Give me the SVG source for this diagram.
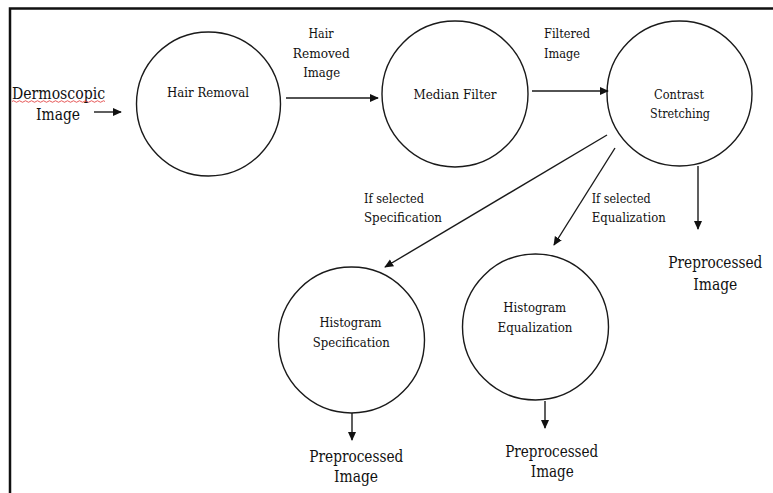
<svg xmlns="http://www.w3.org/2000/svg" width="773" height="493" viewBox="0 0 773 493">
<style>
  .node circle { fill: #fff; stroke: #1a1a1a; stroke-width: 1.4; }
  text { font-family: 'DejaVu Serif Condensed', 'DejaVu Serif', serif; font-stretch: condensed; fill: #111; }
  .s { font-size: 13px; }
  .l { font-size: 16px; }
  .c { text-anchor: middle; }
  .conn line { stroke: #1a1a1a; stroke-width: 1.4; marker-end: url(#ah); }
  .frame { stroke: #111; stroke-width: 2.5; fill: none; }
</style>
<defs>
  <marker id="ah" viewBox="0 0 10 10" refX="9" refY="5" markerWidth="9" markerHeight="9" markerUnits="userSpaceOnUse" orient="auto">
    <path d="M0,0.5 L10,5 L0,9.5 z" fill="#111"/>
  </marker>
</defs>
<rect width="773" height="493" fill="#fff"/>
<path class="frame" d="M10,493 L10,8.5 L773,8.5"/>

<g id="input">
  <text class="l" x="12" y="99" textLength="93" lengthAdjust="spacingAndGlyphs">Dermoscopic</text>
  <path d="M12,101.5 q1.5,-1.5 3,0 t3,0 t3,0 t3,0 t3,0 t3,0 t3,0 t3,0 t3,0 t3,0 t3,0 t3,0 t3,0 t3,0 t3,0 t3,0 t3,0 t3,0 t3,0 t3,0 t3,0 t3,0 t3,0 t3,0 t3,0 t3,0 t3,0 t3,0 t3,0 t3,0 t3,0" fill="none" stroke="#e03030" stroke-width="0.8"/>
  <text class="l c" x="58" y="120" textLength="44" lengthAdjust="spacingAndGlyphs">Image</text>
</g>

<g id="hair-removal" class="node">
  <circle cx="208.5" cy="104" r="72"/>
  <text class="s c" x="208" y="97" textLength="82" lengthAdjust="spacingAndGlyphs">Hair Removal</text>
</g>

<g id="median-filter" class="node">
  <circle cx="455" cy="94" r="73"/>
  <text class="s c" x="455" y="99" textLength="83" lengthAdjust="spacingAndGlyphs">Median Filter</text>
</g>

<g id="contrast-stretching" class="node">
  <circle cx="679.5" cy="93.5" r="72.5"/>
  <text class="s c" x="679" y="99" textLength="50" lengthAdjust="spacingAndGlyphs">Contrast</text>
  <text class="s c" x="680" y="118" textLength="60" lengthAdjust="spacingAndGlyphs">Stretching</text>
</g>

<g id="histogram-specification" class="node">
  <circle cx="351.5" cy="340" r="73"/>
  <text class="s c" x="350.5" y="327" textLength="62" lengthAdjust="spacingAndGlyphs">Histogram</text>
  <text class="s c" x="351.3" y="347" textLength="77" lengthAdjust="spacingAndGlyphs">Specification</text>
</g>

<g id="histogram-equalization" class="node">
  <circle cx="535.5" cy="327" r="73"/>
  <text class="s c" x="534.7" y="312" textLength="63" lengthAdjust="spacingAndGlyphs">Histogram</text>
  <text class="s c" x="535" y="332" textLength="75" lengthAdjust="spacingAndGlyphs">Equalization</text>
</g>

<g id="output-contrast">
  <text class="l c" x="715.3" y="268" textLength="94" lengthAdjust="spacingAndGlyphs">Preprocessed</text>
  <text class="l c" x="715.3" y="290" textLength="44" lengthAdjust="spacingAndGlyphs">Image</text>
</g>
<g id="output-specification">
  <text class="l c" x="356.3" y="462" textLength="94" lengthAdjust="spacingAndGlyphs">Preprocessed</text>
  <text class="l c" x="356" y="482" textLength="44" lengthAdjust="spacingAndGlyphs">Image</text>
</g>
<g id="output-equalization">
  <text class="l c" x="551.7" y="457" textLength="93" lengthAdjust="spacingAndGlyphs">Preprocessed</text>
  <text class="l c" x="552.3" y="477" textLength="43" lengthAdjust="spacingAndGlyphs">Image</text>
</g>

<g id="connectors" class="conn">
  <line x1="94" y1="112" x2="121" y2="112"/>
  <line x1="286" y1="98" x2="378" y2="98"/>
  <line x1="532" y1="91" x2="608" y2="91"/>
  <line x1="698" y1="166" x2="698" y2="229"/>
  <line x1="607" y1="135" x2="385" y2="267"/>
  <line x1="615" y1="148" x2="554" y2="245"/>
  <line x1="352" y1="413" x2="352" y2="440"/>
  <line x1="545" y1="401" x2="545" y2="428"/>
</g>

<g id="labels">
  <text class="s c" x="321" y="38" textLength="25" lengthAdjust="spacingAndGlyphs">Hair</text>
  <text class="s c" x="321.3" y="58" textLength="57" lengthAdjust="spacingAndGlyphs">Removed</text>
  <text class="s c" x="321.7" y="77" textLength="37" lengthAdjust="spacingAndGlyphs">Image</text>
  <text class="s" x="544" y="38" textLength="46" lengthAdjust="spacingAndGlyphs">Filtered</text>
  <text class="s" x="544" y="58" textLength="36" lengthAdjust="spacingAndGlyphs">Image</text>
  <text class="s" x="364" y="203" textLength="60" lengthAdjust="spacingAndGlyphs">If selected</text>
  <text class="s" x="364" y="222" textLength="78" lengthAdjust="spacingAndGlyphs">Specification</text>
  <text class="s" x="591.7" y="203" textLength="59" lengthAdjust="spacingAndGlyphs">If selected</text>
  <text class="s" x="591.7" y="222" textLength="74" lengthAdjust="spacingAndGlyphs">Equalization</text>
</g>
</svg>
